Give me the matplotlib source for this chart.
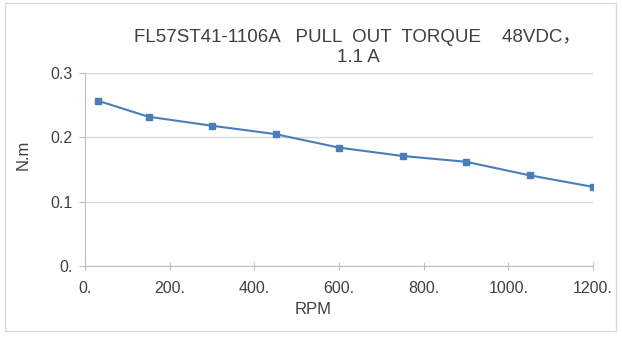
import matplotlib
matplotlib.use("Agg")
import matplotlib.pyplot as plt
from matplotlib.patches import Rectangle

rpm = [30, 150, 300, 450, 600, 750, 900, 1050, 1200]
torque = [0.257, 0.232, 0.218, 0.205, 0.184, 0.171, 0.162, 0.141, 0.123]
x_ticks = [0, 200, 400, 600, 800, 1000, 1200]
x_labels = ["0.", "200.", "400.", "600.", "800.", "1000.", "1200."]
y_ticks = [0, 0.1, 0.2, 0.3]
y_labels = ["0.", "0.1", "0.2", "0.3"]

fam = ["Liberation Sans", "Noto Sans CJK SC", "DejaVu Sans"]
plt.rcParams["font.family"] = fam

fig = plt.figure(figsize=(6.22, 3.37), dpi=100)
ax = fig.add_axes([85/622, 1-266/337, (593-85)/622, (266-73)/337])

ax.plot(rpm, torque, color="#4a7ebb", lw=1.5, marker="s", ms=5,
        markerfacecolor="#4a7ebb", markeredgecolor="#4a7ebb", zorder=3)

ax.set_xlim(0, 1200)
ax.set_ylim(0, 0.3)
ax.set_xticks(x_ticks)
ax.set_xticklabels(x_labels)
ax.set_yticks(y_ticks)
ax.set_yticklabels(y_labels)
ax.yaxis.grid(True, color="#d9d9d9", lw=1)
ax.set_axisbelow(True)
for s in ["top", "right"]:
    ax.spines[s].set_visible(False)
for s in ["left", "bottom"]:
    ax.spines[s].set_color("#bfbfbf")
ax.tick_params(axis="x", direction="inout", length=6, color="#bfbfbf",
               labelsize=11.5, labelcolor="#404040", pad=8)
ax.tick_params(axis="y", direction="out", length=4, color="#bfbfbf",
               labelsize=11.5, labelcolor="#404040", pad=5)

fig.text(313/622, 1-310/337, "RPM", ha="center", va="center",
         fontsize=12, color="#404040")
fig.text(23/622, 1-155/337, "N.m", ha="center", va="center",
         rotation=90, fontsize=12, color="#404040")

fig.text(358/622, 1-37/337, "FL57ST41-1106A   PULL  OUT  TORQUE    48VDC，",
         ha="center", va="center", fontsize=13.5, color="#404040")
fig.text(358/622, 1-57/337, "1.1 A",
         ha="center", va="center", fontsize=13.5, color="#404040")

fig.patches.append(Rectangle((5/622, 1-331/337), 611/622, 328/337,
                             transform=fig.transFigure, fill=False,
                             edgecolor="#d9d9d9", lw=1))

fig.savefig("out.png", dpi=100)
